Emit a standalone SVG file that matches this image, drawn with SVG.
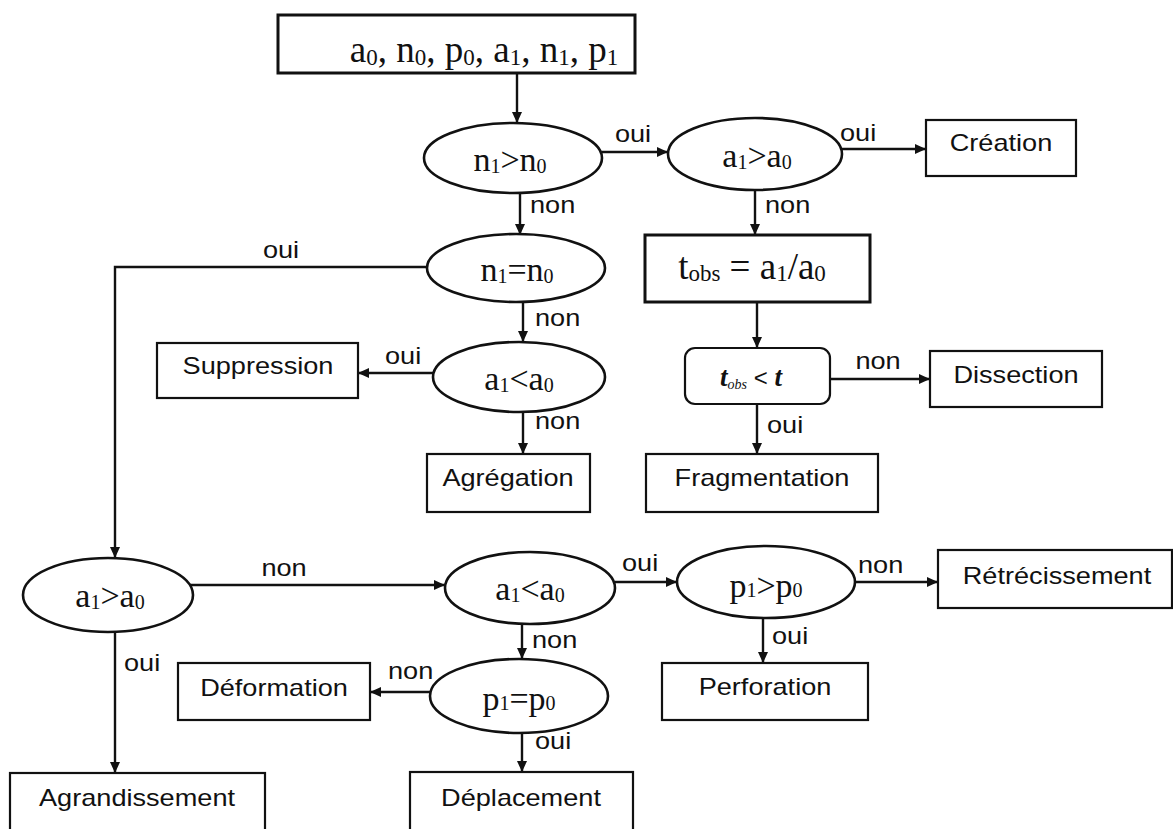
<svg xmlns="http://www.w3.org/2000/svg" width="1173" height="829" viewBox="0 0 1173 829">
<style>
.box{fill:#fff;stroke:#111;stroke-width:2.2}
.thick{fill:#fff;stroke:#111;stroke-width:3}
.ell{fill:#fff;stroke:#111;stroke-width:2.6}
.ln{fill:none;stroke:#111;stroke-width:2.4;marker-end:url(#ah)}
.s{font-family:"Liberation Sans",Arial,sans-serif;font-size:23px;fill:#111}
.m{text-anchor:middle}
.r{font-family:"Liberation Serif","Times New Roman",serif;font-size:34px;fill:#111;text-anchor:middle}
.sub{font-size:20px}
.big{font-size:37px}
.bsub{font-size:23px}
</style>
<defs>
<marker id="ah" markerUnits="userSpaceOnUse" markerWidth="11" markerHeight="10" refX="11" refY="5" orient="auto">
<path d="M0,0 L11,5 L0,10 z" fill="#111"/>
</marker>
</defs>
<rect width="1173" height="829" fill="#fff"/>
<g id="connectors">
<line class="ln" x1="517" y1="73" x2="517" y2="123"/>
<line class="ln" x1="602" y1="152" x2="668" y2="152"/>
<line class="ln" x1="842" y1="149" x2="926" y2="149"/>
<line class="ln" x1="755" y1="190" x2="755" y2="235"/>
<line class="ln" x1="520" y1="193" x2="520" y2="235"/>
<line class="ln" x1="757" y1="302" x2="757" y2="348"/>
<line class="ln" x1="830" y1="379" x2="930" y2="379"/>
<line class="ln" x1="757" y1="404" x2="757" y2="454"/>
<polyline class="ln" points="427,267 115,267 115,558"/>
<line class="ln" x1="523" y1="302" x2="523" y2="342"/>
<line class="ln" x1="433" y1="373" x2="358" y2="373"/>
<line class="ln" x1="523" y1="412" x2="523" y2="454"/>
<line class="ln" x1="190" y1="585" x2="445" y2="585"/>
<line class="ln" x1="115" y1="632" x2="115" y2="773"/>
<line class="ln" x1="615" y1="582" x2="677" y2="582"/>
<line class="ln" x1="855" y1="582" x2="938" y2="582"/>
<line class="ln" x1="763" y1="618" x2="763" y2="663"/>
<line class="ln" x1="522" y1="623" x2="522" y2="659"/>
<line class="ln" x1="430" y1="692" x2="370" y2="692"/>
<line class="ln" x1="522" y1="733" x2="522" y2="772"/>
<text class="s m" transform="translate(633 142) scale(1.18 1)">oui</text>
<text class="s" transform="translate(840 141) scale(1.18 1)">oui</text>
<text class="s" transform="translate(765 213) scale(1.18 1)">non</text>
<text class="s" transform="translate(530 213) scale(1.18 1)">non</text>
<text class="s m" transform="translate(878 369) scale(1.18 1)">non</text>
<text class="s" transform="translate(767 433) scale(1.18 1)">oui</text>
<text class="s m" transform="translate(281 258) scale(1.18 1)">oui</text>
<text class="s" transform="translate(535 326) scale(1.18 1)">non</text>
<text class="s" transform="translate(385 364) scale(1.18 1)">oui</text>
<text class="s" transform="translate(535 429) scale(1.18 1)">non</text>
<text class="s m" transform="translate(284 576) scale(1.18 1)">non</text>
<text class="s" transform="translate(124 671) scale(1.18 1)">oui</text>
<text class="s" transform="translate(622 571) scale(1.18 1)">oui</text>
<text class="s" transform="translate(858 573) scale(1.18 1)">non</text>
<text class="s" transform="translate(772 644) scale(1.18 1)">oui</text>
<text class="s" transform="translate(532 648) scale(1.18 1)">non</text>
<text class="s" transform="translate(388 679) scale(1.18 1)">non</text>
<text class="s" transform="translate(535 749) scale(1.18 1)">oui</text>
</g>
<g id="start">
<rect class="thick" x="278" y="15" width="357" height="58"/>
<text class="r big" x="484" y="62">a<tspan class="bsub" dy="3">0</tspan><tspan dy="-3">, n</tspan><tspan class="bsub" dy="3">0</tspan><tspan dy="-3">, p</tspan><tspan class="bsub" dy="3">0</tspan><tspan dy="-3">, a</tspan><tspan class="bsub" dy="3">1</tspan><tspan dy="-3">, n</tspan><tspan class="bsub" dy="3">1</tspan><tspan dy="-3">, p</tspan><tspan class="bsub" dy="3">1</tspan></text>
</g>
<g id="n1gtn0">
<ellipse class="ell" cx="513" cy="158" rx="89" ry="35"/>
<text class="r" x="510" y="171">n<tspan class="sub" dy="2">1</tspan><tspan dy="-2">&gt;n</tspan><tspan class="sub" dy="2">0</tspan></text>
</g>
<g id="a1gta0_top">
<ellipse class="ell" cx="755" cy="154" rx="87" ry="36"/>
<text class="r" x="757" y="167">a<tspan class="sub" dy="2">1</tspan><tspan dy="-2">&gt;a</tspan><tspan class="sub" dy="2">0</tspan></text>
</g>
<g id="creation">
<rect class="box" x="926" y="120" width="150" height="56"/>
<text class="s m" transform="translate(1001 151) scale(1.18 1)">Création</text>
</g>
<g id="tobs">
<rect class="thick" x="645" y="235" width="225" height="67"/>
<text class="r big" x="752" y="279">t<tspan class="bsub" dy="2">obs</tspan><tspan dy="-2"> = a</tspan><tspan class="bsub" dy="2">1</tspan><tspan dy="-2">/a</tspan><tspan class="bsub" dy="2">0</tspan></text>
</g>
<g id="tobs_lt_t">
<rect class="box" x="685" y="348" width="145" height="56" rx="10"/>
<text x="751" y="386" text-anchor="middle" fill="#111" font-family="'Liberation Serif',serif" font-style="italic" font-weight="bold" font-size="27">t<tspan font-size="14" dy="3" font-weight="normal">obs</tspan><tspan dy="-3" font-family="'Liberation Sans',sans-serif" font-style="normal" font-weight="normal" font-size="24"> &lt; </tspan>t</text>
</g>
<g id="dissection">
<rect class="box" x="930" y="351" width="172" height="56"/>
<text class="s m" transform="translate(1016 383) scale(1.18 1)">Dissection</text>
</g>
<g id="fragmentation">
<rect class="box" x="646" y="454" width="232" height="58"/>
<text class="s m" transform="translate(762 486) scale(1.18 1)">Fragmentation</text>
</g>
<g id="n1eqn0">
<ellipse class="ell" cx="516" cy="268" rx="89" ry="34"/>
<text class="r" x="517" y="281">n<tspan class="sub" dy="2">1</tspan><tspan dy="-2">=n</tspan><tspan class="sub" dy="2">0</tspan></text>
</g>
<g id="a1lta0_mid">
<ellipse class="ell" cx="519" cy="377" rx="86" ry="35"/>
<text class="r" x="519" y="390">a<tspan class="sub" dy="2">1</tspan><tspan dy="-2">&lt;a</tspan><tspan class="sub" dy="2">0</tspan></text>
</g>
<g id="suppression">
<rect class="box" x="157" y="343" width="201" height="55"/>
<text class="s m" transform="translate(258 374) scale(1.18 1)">Suppression</text>
</g>
<g id="agregation">
<rect class="box" x="427" y="454" width="163" height="58"/>
<text class="s m" transform="translate(508 486) scale(1.18 1)">Agrégation</text>
</g>
<g id="a1gta0_bot">
<ellipse class="ell" cx="108" cy="595" rx="85" ry="37"/>
<text class="r" x="110" y="607">a<tspan class="sub" dy="2">1</tspan><tspan dy="-2">&gt;a</tspan><tspan class="sub" dy="2">0</tspan></text>
</g>
<g id="a1lta0_bot">
<ellipse class="ell" cx="530" cy="588" rx="85" ry="36"/>
<text class="r" x="530" y="600">a<tspan class="sub" dy="2">1</tspan><tspan dy="-2">&lt;a</tspan><tspan class="sub" dy="2">0</tspan></text>
</g>
<g id="p1gtp0">
<ellipse class="ell" cx="766" cy="582" rx="89" ry="36"/>
<text class="r" x="766" y="597">p<tspan class="sub">1</tspan><tspan>&gt;p</tspan><tspan class="sub">0</tspan></text>
</g>
<g id="retrecissement">
<rect class="box" x="938" y="550" width="234" height="58"/>
<text class="s m" transform="translate(1057 584) scale(1.18 1)">Rétrécissement</text>
</g>
<g id="perforation">
<rect class="box" x="662" y="663" width="206" height="57"/>
<text class="s m" transform="translate(765 695) scale(1.18 1)">Perforation</text>
</g>
<g id="p1eqp0">
<ellipse class="ell" cx="519" cy="696" rx="89" ry="37"/>
<text class="r" x="519" y="710">p<tspan class="sub">1</tspan><tspan>=p</tspan><tspan class="sub">0</tspan></text>
</g>
<g id="deformation">
<rect class="box" x="178" y="663" width="192" height="57"/>
<text class="s m" transform="translate(274 696) scale(1.18 1)">Déformation</text>
</g>
<g id="agrandissement">
<rect class="box" x="10" y="773" width="255" height="62"/>
<text class="s m" transform="translate(137 806) scale(1.18 1)">Agrandissement</text>
</g>
<g id="deplacement">
<rect class="box" x="410" y="772" width="223" height="62"/>
<text class="s m" transform="translate(521 806) scale(1.18 1)">Déplacement</text>
</g>
</svg>
